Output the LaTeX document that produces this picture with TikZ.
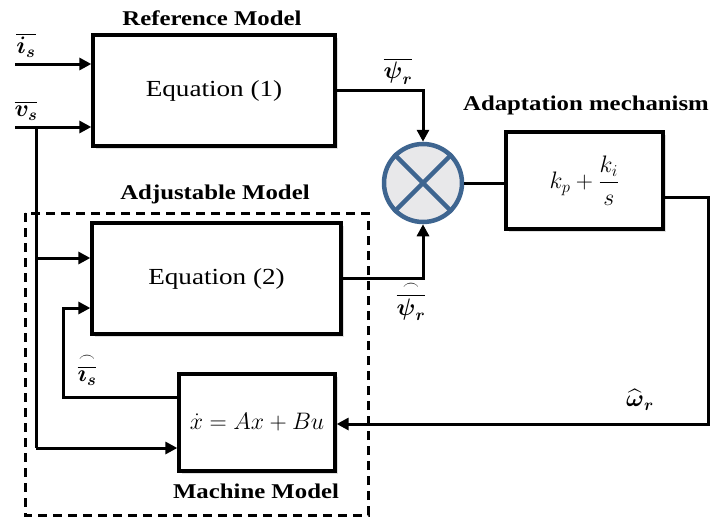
\documentclass[tikz,border=0pt]{standalone}
\usepackage{graphicx}
\usepackage{amsmath}
\usepackage{fontspec}
\setmainfont[FakeStretch=1.18]{Liberation Serif}
\usetikzlibrary{arrows.meta,shadows}
\definecolor{sumblue}{HTML}{3E6590}
\definecolor{sumfill}{HTML}{E8E8EA}
\newcommand{\mybigmath}[1]{\scalebox{1.15}{#1}}
\begin{document}
\begin{tikzpicture}[x=1pt,y=-1pt,
  blk/.style={draw=black,line width=3.3pt,fill=white,rectangle,inner sep=0pt,
     drop shadow={opacity=0.25,shadow xshift=3pt,shadow yshift=-3pt}},
  conn/.style={line width=3pt,line join=miter},
  arr/.style={conn,-{Triangle[length=12pt,width=12pt]}},
  ttl/.style={font=\fontsize{21}{24}\selectfont\bfseries,inner sep=0pt},
  txt/.style={font=\fontsize{23}{27}\selectfont},
  mth/.style={font=\fontsize{20}{24}\selectfont},
  lbl/.style={font=\fontsize{20}{24}\selectfont,inner sep=0pt}]
\useasboundingbox (0,0) rectangle (715,522);

% dashed adjustable-model frame
\draw[line width=3pt,dash pattern=on 9pt off 6pt] (25,213) rectangle (368,515);

% blocks
\node[blk,txt,minimum width=242pt,minimum height=111pt] (ref) at (214,90.5) {Equation (1)};
\node[blk,txt,minimum width=249pt,minimum height=111pt] (eq2) at (216.5,278.5) {Equation (2)};
\node[blk,mth,minimum width=156pt,minimum height=97pt] (mach) at (257,422.5) {\mybigmath{$\dot{x}=Ax+Bu$}};
\node[blk,mth,minimum width=157pt,minimum height=97pt] (adapt) at (584.5,180.5) {\mybigmath{$k_p+\dfrac{k_i}{s}$}};
\node[circle,draw=sumblue,fill=sumfill,line width=4.5pt,minimum size=78pt,inner sep=0pt] (sum) at (423,183) {};
\draw[sumblue,line width=4.5pt] (sum.north east) -- (sum.south west) (sum.north west) -- (sum.south east);

% titles
\node[ttl] (tref) at (212,18) {Reference Model};
\node[ttl] (tadj) at (215,194) {Adjustable Model};
\node[ttl] (tadp) at (586,105) {Adaptation mechanism};
\node[ttl] (tmac) at (256,491) {Machine Model};

% inputs
\coordinate (iin) at (15,64);
\coordinate (vin) at (15,127);
\draw[arr] (iin) -- (iin -| ref.west);
\draw[arr] (vin) -- (vin -| ref.west);
\node[lbl] (lis) at (26,45) {\mybigmath{$\overline{\boldsymbol{i_s}}$}};
\node[lbl] (lvs) at (26,111) {\mybigmath{$\overline{\boldsymbol{v_s}}$}};

% trunk from v_s
\coordinate (j1) at (36,127);
\coordinate (j2) at (36,258);
\coordinate (j3) at (36,448);
\draw[conn] (j1) -- (j3);
\draw[arr] (j2) -- (j2 -| eq2.west);
\draw[arr] (j3) -- (j3 -| mach.west);

% machine model feedback i_s hat
\coordinate (m1) at (63,397);
\coordinate (m2) at (63,308);
\draw[arr] (m1 -| mach.west) -- (m1) -- (m2) -- (m2 -| eq2.west);
\node[lbl] (lish) at (87,369) {\mybigmath{$\overset{\frown}{\overline{\boldsymbol{\imath}_{\boldsymbol s}}}$}};

% to summing junction
\draw[arr] (ref.east) -| (sum.north);
\node[lbl] (lpsi) at (398,71) {\mybigmath{$\overline{\boldsymbol{\psi}_{\boldsymbol r}}$}};
\draw[arr] (eq2.east) -| (sum.south);
\node[lbl] (lpsih) at (411,301) {\mybigmath{$\overset{\frown}{\overline{\boldsymbol{\psi}_{\boldsymbol r}}}$}};

% sum to adaptation
\draw[conn] (sum.east) -- (sum.east -| adapt.west);

% adaptation output back to machine model
\coordinate (a1) at (663,197);
\coordinate (a2) at (708,197);
\coordinate (a3) at (708,424);
\draw[arr] (a1) -- (a2) -- (a3) -- (a3 -| mach.east);
\node[lbl] (lom) at (640,400) {\mybigmath{$\widehat{\boldsymbol{\omega}}_{\boldsymbol r}$}};
\end{tikzpicture}
\end{document}
